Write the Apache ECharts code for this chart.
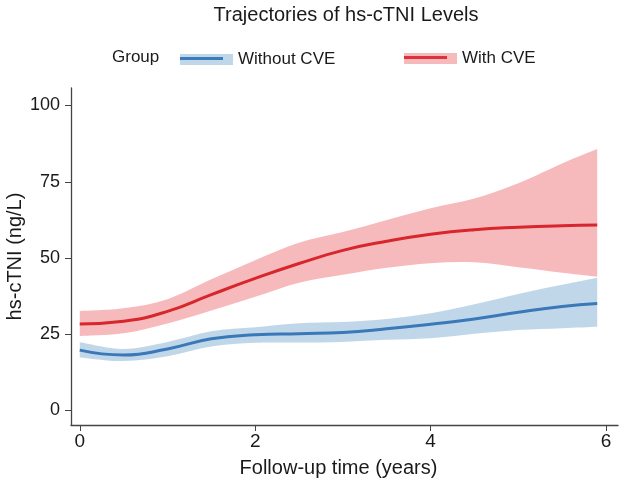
<!DOCTYPE html>
<html>
<head>
<meta charset="utf-8">
<script src="https://cdn.jsdelivr.net/npm/echarts@6/dist/echarts.min.js"></script>
<style>
  html, body { margin: 0; padding: 0; background: #fff; }
  #trajChart { width: 619px; height: 485px; }
</style>
</head>
<body>
<div id="trajChart"></div>
<script>
// follow-up time (years)
var years = [0, 0.5, 1, 1.5, 2, 2.5, 3, 3.5, 4, 4.5, 5, 5.5, 5.9];

// Without CVE: fitted hs-cTNI and 95% band
var noCveFit   = [19.8, 18.2, 20.2, 23.5, 24.8, 25.2, 25.6, 26.8, 28.3, 30.0, 32.2, 34.1, 35.1];
var noCveLower = [17.4, 16.2, 17.8, 21.0, 22.2, 22.3, 22.5, 23.2, 23.7, 25.2, 26.4, 27.0, 27.5];
var noCveUpper = [22.4, 20.2, 22.5, 26.0, 27.3, 28.6, 29.0, 30.0, 31.9, 34.8, 38.2, 41.2, 43.5];

// With CVE
var cveFit   = [28.4, 29.3, 32.5, 38.0, 43.3, 48.2, 52.5, 55.5, 57.8, 59.3, 60.1, 60.6, 60.8];
var cveLower = [24.4, 25.3, 28.5, 32.8, 37.3, 41.9, 44.5, 46.8, 48.3, 48.6, 47.0, 45.2, 43.9];
var cveUpper = [32.6, 33.5, 36.5, 43.0, 49.3, 55.0, 58.5, 62.5, 66.3, 69.5, 74.5, 81.0, 85.7];

var yTicks = [0, 25, 50, 75, 100];
var xTicks = [0, 2, 4, 6];

var blueLine = '#3a78b8', blueBand = 'rgba(60,130,190,0.32)';
var redLine = '#d7262c', redBand = 'rgba(232,70,80,0.38)';
var font = 'Liberation Sans, Arial, sans-serif';

function pairs(ys) {
    return years.map(function (x, i) { return [x, ys[i]]; });
}

// catmull-rom through pixel points -> bezier path segments
function curveThrough(pts) {
    var d = '';
    for (var i = 0; i < pts.length - 1; i++) {
        var p0 = pts[Math.max(i - 1, 0)], p1 = pts[i], p2 = pts[i + 1], p3 = pts[Math.min(i + 2, pts.length - 1)];
        var c1x = p1[0] + (p2[0] - p0[0]) / 6, c1y = p1[1] + (p2[1] - p0[1]) / 6;
        var c2x = p2[0] - (p3[0] - p1[0]) / 6, c2y = p2[1] - (p3[1] - p1[1]) / 6;
        d += ' C' + c1x + ',' + c1y + ' ' + c2x + ',' + c2y + ' ' + p2[0] + ',' + p2[1];
    }
    return d;
}

function band(name, lo, hi, color) {
    return {
        name: name, type: 'custom', silent: true,
        data: years.map(function (x, i) { return [x, lo[i], hi[i]]; }),
        encode: { x: 0, y: [1, 2] },
        renderItem: function (params, api) {
            if (params.dataIndex !== 0) return;
            var up = years.map(function (x, i) { return api.coord([x, hi[i]]); });
            var dn = years.map(function (x, i) { return api.coord([x, lo[i]]); }).reverse();
            var d = 'M' + up[0][0] + ',' + up[0][1] + curveThrough(up) +
                    ' L' + dn[0][0] + ',' + dn[0][1] + curveThrough(dn) + ' Z';
            return { type: 'path', shape: { pathData: d }, style: { fill: color } };
        }
    };
}

var trajChart = echarts.init(document.getElementById('trajChart'));

var option = {
    animation: false,
    textStyle: { fontFamily: font },
    title: {
        text: 'Trajectories of hs-cTNI Levels',
        left: 341, top: 0, textAlign: 'center',
        textStyle: { fontSize: 20, fontWeight: 'normal', color: '#1a1a1a', fontFamily: font }
    },
    legend: [{
        left: 175, top: 46,
        itemWidth: 53, itemHeight: 11, itemGap: 10,
        textStyle: { fontSize: 17, color: '#1a1a1a', fontFamily: font },
        selectedMode: false,
        data: [{ name: 'Without CVE', icon: 'rect', itemStyle: { color: blueBand, opacity: 1 } }]
    }, {
        left: 399, top: 45,
        itemWidth: 53, itemHeight: 11,
        textStyle: { fontSize: 17, color: '#1a1a1a', fontFamily: font },
        selectedMode: false,
        data: [{ name: 'With CVE', icon: 'rect', itemStyle: { color: redBand, opacity: 1 } }]
    }],
    graphic: [
        { type: 'text', left: 112, top: 49,
          style: { text: 'Group', font: '17px ' + font, fill: '#1a1a1a' } },
        { type: 'line', shape: { x1: 180, y1: 58.5, x2: 223, y2: 58.5 },
          style: { stroke: blueLine, lineWidth: 3 } },
        { type: 'line', shape: { x1: 404, y1: 57.5, x2: 447, y2: 57.5 },
          style: { stroke: redLine, lineWidth: 3 } }
    ],
    grid: { left: 71, right: 1, top: 88, bottom: 60, outerBoundsMode: 'none', containLabel: false },
    xAxis: {
        type: 'value',
        min: -0.1, max: 6.137,
        name: 'Follow-up time (years)',
        nameLocation: 'middle', nameGap: 33, nameMoveOverlap: false,
        nameTextStyle: { fontSize: 20, color: '#1a1a1a', padding: [0, 12, 0, 0] },
        axisLine: { onZero: false, lineStyle: { color: '#444', width: 1.3 } },
        axisTick: { show: true, length: 6, customValues: xTicks, lineStyle: { color: '#444' } },
        axisLabel: { customValues: xTicks, fontSize: 19, color: '#1a1a1a', margin: 7 },
        splitLine: { show: false }
    },
    yAxis: {
        type: 'value',
        min: -4.75, max: 105.74,
        name: 'hs-cTNI (ng/L)',
        nameLocation: 'middle', nameGap: 46, nameMoveOverlap: false,
        nameTextStyle: { fontSize: 20, color: '#1a1a1a' },
        axisLine: { show: true, onZero: false, lineStyle: { color: '#444', width: 1.3 } },
        axisTick: { show: true, length: 6, customValues: yTicks, lineStyle: { color: '#444' } },
        axisLabel: { customValues: yTicks, fontSize: 18, color: '#1a1a1a', margin: 11 },
        splitLine: { show: false }
    },
    series: [
        band('Without CVE', noCveLower, noCveUpper, blueBand),
        band('With CVE', cveLower, cveUpper, redBand),
        {
            name: 'Without CVE', type: 'line', data: pairs(noCveFit), smooth: true,
            symbol: 'none', lineStyle: { color: blueLine, width: 3 }, itemStyle: { color: blueLine }
        }, {
            name: 'With CVE', type: 'line', data: pairs(cveFit), smooth: true,
            symbol: 'none', lineStyle: { color: redLine, width: 3 }, itemStyle: { color: redLine }
        }
    ]
};

trajChart.setOption(option);
</script>
</body>
</html>
